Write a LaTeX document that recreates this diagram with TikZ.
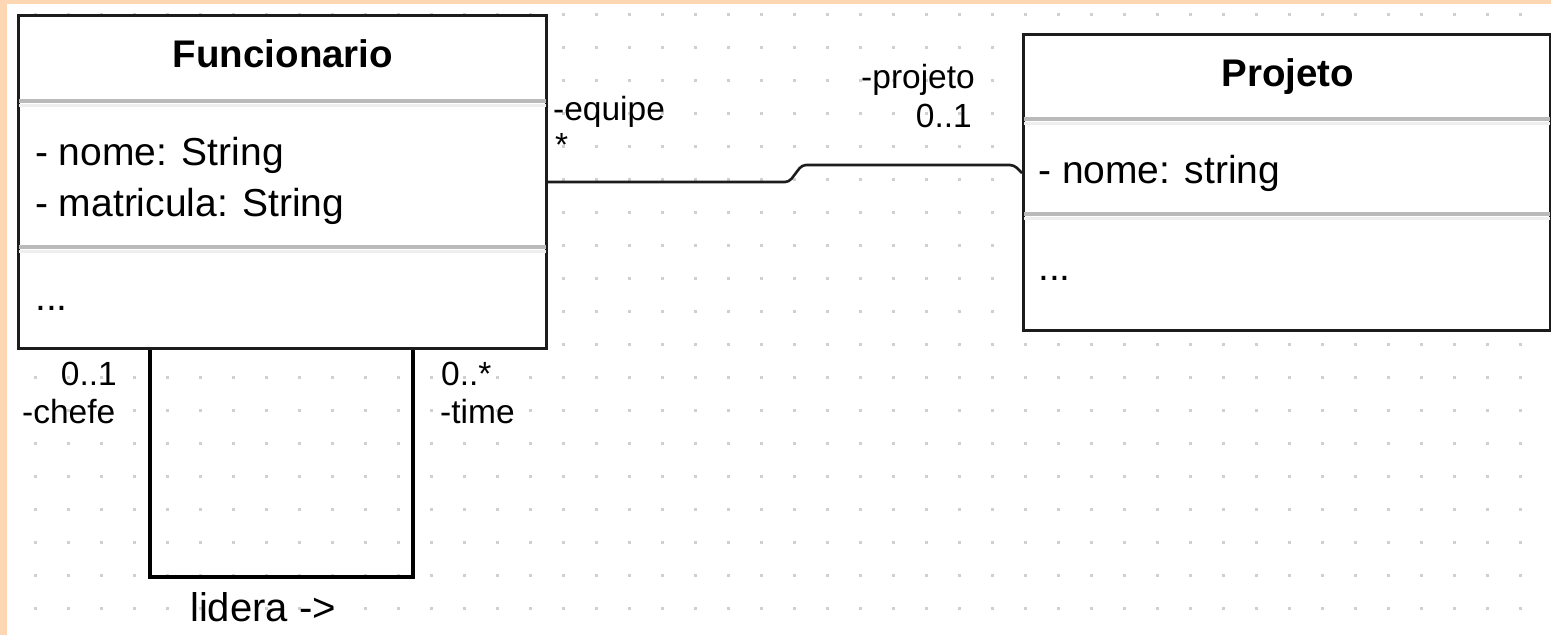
\documentclass[tikz,border=0pt]{standalone}
\usepackage{fontspec}
\setmainfont{Liberation Sans}
\usetikzlibrary{calc}

\definecolor{peach}{RGB}{253,215,180}
\definecolor{griddot}{RGB}{208,208,208}
\definecolor{frame}{RGB}{28,28,28}
\definecolor{sepdark}{RGB}{186,186,186}
\definecolor{seplight}{RGB}{238,238,238}

\tikzset{
  classbox/.style={draw=frame, line width=3pt, fill=white, inner sep=0pt, anchor=north west},
  sepline/.style={draw=sepdark, line width=3.5pt},
  sepshade/.style={draw=seplight, line width=3pt},
  titletext/.style={font=\bfseries\fontsize{38.5}{42}\selectfont, anchor=base, inner sep=0pt},
  membertext/.style={font=\fontsize{39}{42}\selectfont, anchor=base west, inner sep=0pt},
  roletext/.style={font=\fontsize{33.5}{36}\selectfont, inner sep=0pt},
  assoc/.style={draw=frame, line width=2.6pt, rounded corners=4pt},
  selfassoc/.style={draw=black, line width=3.2pt, line join=miter},
}

\begin{document}
\begin{tikzpicture}[x=1pt, y=-1pt]
  % canvas: peach frame on the top and left, white drawing area
  \fill[peach] (0,0) rectangle (1551,635);
  \fill[white] (7,4) rectangle (1551,635);
  \useasboundingbox (0,0) rectangle (1551,635);

  % dotted grid of the editor
  \foreach \i in {0,...,45}
    \foreach \j in {0,...,18}
      \fill[griddot] (34+33*\i, 13+33*\j) rectangle ++(2.6,2.6);

  % ---- class Funcionario ----
  \node[classbox, minimum width=528pt, minimum height=333pt] (fun) at (17,14) {};
  \draw[sepshade] ($(fun.north west)+(2,91)$) -- ($(fun.north east)+(-2,91)$);
  \draw[sepline]  ($(fun.north west)+(2,87)$) -- ($(fun.north east)+(-2,87)$);
  \draw[sepshade] ($(fun.north west)+(2,237)$) -- ($(fun.north east)+(-2,237)$);
  \draw[sepline]  ($(fun.north west)+(2,233)$) -- ($(fun.north east)+(-2,233)$);
  \node[titletext] (funname) at (283,67) {Funcionario};
  \node[membertext] (funattra) at (35,165) {- nome: String};
  \node[membertext] (funattrb) at (35,216) {- matricula: String};
  \node[membertext] (funops) at (35,310) {...};

  % ---- class Projeto ----
  \node[classbox, minimum width=527pt, minimum height=296pt] (proj) at (1022,33) {};
  \draw[sepshade] ($(proj.north west)+(2,90)$) -- ($(proj.north east)+(-2,90)$);
  \draw[sepline]  ($(proj.north west)+(2,86)$) -- ($(proj.north east)+(-2,86)$);
  \draw[sepshade] ($(proj.north west)+(2,185)$) -- ($(proj.north east)+(-2,185)$);
  \draw[sepline]  ($(proj.north west)+(2,181)$) -- ($(proj.north east)+(-2,181)$);
  \node[titletext] (projname) at (1288,86) {Projeto};
  \node[membertext] (projattr) at (1038,183) {- nome: string};
  \node[membertext] (projops) at (1038,280) {...};

  % ---- association Funcionario -- Projeto ----
  \coordinate (aStart) at ($(fun.north east)+(0,168)$);
  \coordinate (aEnd) at ($(proj.north west)+(0,140)$);
  \draw[assoc] (aStart) -- (789,182) -- (802,165) -- (1014,165) -- (aEnd);
  \node[roletext, anchor=base west] (equipe) at (553,120) {-equipe};
  \node[roletext, anchor=base west] (equipem) at (555,156) {*};
  \node[roletext, anchor=base east] (projeto) at (975,88) {-projeto};
  \node[roletext, anchor=base east] (projetom) at (972,127) {0..1};

  % ---- self association lidera ----
  \coordinate (lStart) at ($(fun.south west)+(133,0)$);
  \coordinate (lEnd) at ($(fun.south west)+(396,0)$);
  \draw[selfassoc] (lStart) -- (150,577) -- (413,577) -- (lEnd);
  \node[roletext, anchor=base east] (chefem) at (117,385) {0..1};
  \node[roletext, anchor=base west] (chefe) at (22,423) {-chefe};
  \node[roletext, anchor=base west] (timem) at (441,385) {0..*};
  \node[roletext, anchor=base west] (time) at (440,423) {-time};
  \node[membertext, font=\fontsize{40}{42}\selectfont] (lidera) at (190,621) {lidera ->};
\end{tikzpicture}
\end{document}
